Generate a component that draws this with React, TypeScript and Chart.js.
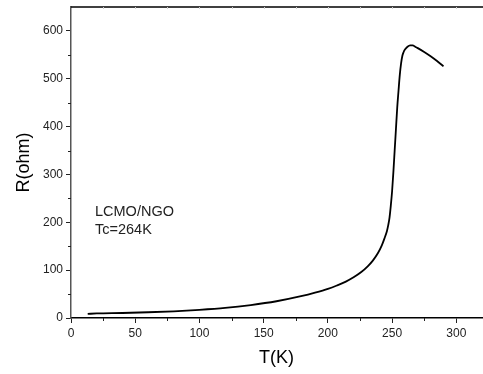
import React, { useEffect, useRef } from "react";
import { Chart, registerables } from "chart.js";

Chart.register(...registerables);

const temperatureK = [13, 20, 40, 60, 80, 100, 120, 140, 160, 180, 190, 200, 207, 214, 220, 226, 231, 235, 239, 242, 244, 246, 247, 248, 249, 250, 251, 252, 253, 254, 255, 256, 257, 258, 259, 260, 262, 264, 266, 268, 270, 275, 280, 285, 290];
const resistanceOhm = [8.5, 9.5, 10.5, 12, 14, 17, 21, 27, 35, 46, 53, 61, 68, 76, 85, 96, 108, 120, 136, 152, 166, 182, 194, 210, 235, 265, 305, 350, 395, 440, 475, 508, 532, 548, 556, 561, 567, 570, 570, 567, 564, 556, 547, 537, 526];
const xTicks = [0, 50, 100, 150, 200, 250, 300];
const yTicks = [0, 100, 200, 300, 400, 500, 600];
const annotationLines = ["LCMO/NGO", "Tc=264K"];

const FONT = "'Liberation Sans', Arial, sans-serif";

const extrasPlugin = {
  id: "extras",
  afterDraw(chart: any) {
    const ctx = chart.ctx;
    const xs = chart.scales.x;
    const ys = chart.scales.y;
    const area = chart.chartArea;
    ctx.save();
    ctx.strokeStyle = "#000";
    ctx.lineWidth = 1.5;
    ctx.beginPath();
    ctx.moveTo(area.left, area.top);
    ctx.lineTo(area.right + 1, area.top);
    ctx.stroke();
    ctx.lineWidth = 1;
    ctx.strokeStyle = "#222";
    for (let v = 25; v < xs.max; v += 50) {
      const px = Math.round(xs.getPixelForValue(v)) + 0.5;
      ctx.beginPath();
      ctx.moveTo(px, area.bottom);
      ctx.lineTo(px, area.bottom + 3);
      ctx.stroke();
    }
    ctx.strokeStyle = "#ccc";
    for (let v = 25; v < xs.max; v += 25) {
      const px = Math.round(xs.getPixelForValue(v)) + 0.5;
      ctx.beginPath();
      ctx.moveTo(px, area.top);
      ctx.lineTo(px, area.top + 2);
      ctx.stroke();
    }
    ctx.strokeStyle = "#222";
    for (let v = 50; v < ys.max; v += 100) {
      const py = Math.round(ys.getPixelForValue(v)) + 0.5;
      ctx.beginPath();
      ctx.moveTo(area.left, py);
      ctx.lineTo(area.left - 3, py);
      ctx.stroke();
    }
    ctx.fillStyle = "#222";
    ctx.font = `14.5px ${FONT}`;
    ctx.textBaseline = "top";
    ctx.textAlign = "left";
    annotationLines.forEach((t, i) => {
      ctx.fillText(t, area.left + 24, 205 + i * 18);
    });
    ctx.restore();
  },
};

export default function App() {
  const ref = useRef<HTMLCanvasElement>(null);
  useEffect(() => {
    document.body.style.margin = "0";
    const chart = new Chart(ref.current!, {
      type: "line",
      data: {
        datasets: [
          {
            data: temperatureK.map((t, i) => ({ x: t, y: resistanceOhm[i] })),
            borderColor: "#000",
            borderWidth: 1.8,
            pointRadius: 0,
            cubicInterpolationMode: "monotone",
            fill: false,
          },
        ],
      },
      options: {
        animation: false,
        responsive: false,
        maintainAspectRatio: false,
        layout: { padding: { top: 7, right: 1, left: 0, bottom: 0 } },
        plugins: { legend: { display: false }, tooltip: { enabled: false } },
        scales: {
          x: {
            type: "linear",
            min: 0,
            max: 320,
            afterBuildTicks: (s: any) => {
              s.ticks = xTicks.map((v) => ({ value: v }));
            },
            afterFit: (s: any) => {
              s.height = 56;
              s.paddingLeft = 0;
              s.paddingRight = 0;
            },
            border: { display: true, color: "#000", width: 1.5 },
            grid: { drawOnChartArea: false, tickLength: 5, tickColor: "#222", tickWidth: 1 },
            ticks: { color: "#222", font: { family: FONT, size: 12 }, padding: 3, maxRotation: 0 },
            title: {
              display: true,
              text: "T(K)",
              color: "#000",
              font: { family: FONT, size: 18 },
              padding: { top: 5, bottom: 5 },
            },
          },
          y: {
            type: "linear",
            min: 0,
            max: 650,
            afterBuildTicks: (s: any) => {
              s.ticks = yTicks.map((v) => ({ value: v }));
            },
            afterFit: (s: any) => {
              s.width = 71;
              s.paddingTop = 0;
              s.paddingBottom = 0;
            },
            border: { display: true, color: "#555", width: 1.5 },
            grid: { drawOnChartArea: false, tickLength: 5, tickColor: "#222", tickWidth: 1 },
            ticks: { color: "#222", font: { family: FONT, size: 12 }, padding: 3 },
            title: {
              display: true,
              text: "R(ohm)",
              color: "#000",
              font: { family: FONT, size: 18 },
              padding: { top: 13, bottom: 13 },
            },
          },
        },
      },
      plugins: [extrasPlugin],
    } as any);
    return () => chart.destroy();
  }, []);
  return <canvas ref={ref} width={483} height={374} style={{ display: "block", width: 483, height: 374 }} />;
}
